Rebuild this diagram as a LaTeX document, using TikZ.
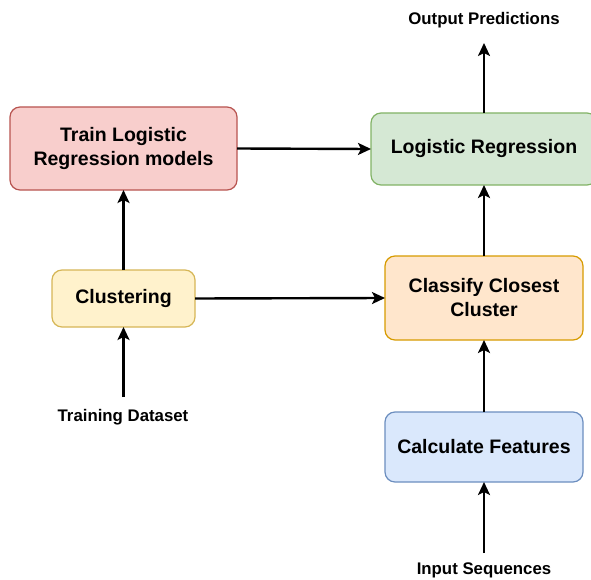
\documentclass[tikz,border=0pt]{standalone}
\usepackage{fontspec}
\setmainfont{Liberation Sans}
\usetikzlibrary{arrows.meta}
\definecolor{redF}{HTML}{F8CECC}\definecolor{redS}{HTML}{B85450}
\definecolor{greenF}{HTML}{D5E8D4}\definecolor{greenS}{HTML}{82B366}
\definecolor{yelF}{HTML}{FFF2CC}\definecolor{yelS}{HTML}{D6B656}
\definecolor{oraF}{HTML}{FFE6CC}\definecolor{oraS}{HTML}{D79B00}
\definecolor{bluF}{HTML}{DAE8FC}\definecolor{bluS}{HTML}{6C8EBF}
\tikzset{
  box/.style={rounded corners=10pt, line width=1.2pt, align=center, inner sep=0pt, outer sep=0pt,
    font=\bfseries\fontsize{19.5}{24}\selectfont},
  lbl/.style={font=\bfseries\fontsize{16.8}{20}\selectfont, inner sep=0pt},
  arr/.style={line width=2.4pt, -{Stealth[length=13pt,width=12pt,inset=3pt]}}
}
\begin{document}
\begin{tikzpicture}[x=1pt,y=-1pt]
\useasboundingbox (0,0) rectangle (591,580);
\node[box, fill=redF, draw=redS, minimum width=227pt, minimum height=83pt] (train) at (123.5,148.5) {Train Logistic\\Regression models};
\node[box, fill=greenF, draw=greenS, minimum width=226pt, minimum height=72pt] (lr) at (484,149) {Logistic Regression};
\node[box, fill=yelF, draw=yelS, minimum width=143pt, minimum height=57pt] (clu) at (123.5,298.5) {Clustering};
\node[box, fill=oraF, draw=oraS, minimum width=198pt, minimum height=84pt] (cls) at (484,298) {Classify Closest\\Cluster};
\node[box, fill=bluF, draw=bluS, minimum width=198pt, minimum height=70pt] (feat) at (484,447) {Calculate Features};
\node[lbl] (out) at (484,20) {Output Predictions};
\node[lbl] (td) at (123,417) {Training Dataset};
\node[lbl] (inp) at (484,570) {Input Sequences};
\coordinate (outA) at (484,43);
\coordinate (tdA) at (123.5,397);
\coordinate (inpA) at (484,553);
\draw[arr] (lr.north) -- (outA);
\draw[arr] (train.east) -- (lr.west);
\draw[arr] (clu.north) -- (train.south);
\draw[arr] (clu.east) -- (cls.west);
\draw[arr] (tdA) -- (clu.south);
\draw[arr] (cls.north) -- (lr.south);
\draw[arr] (feat.north) -- (cls.south);
\draw[arr] (inpA) -- (feat.south);
\end{tikzpicture}
\end{document}
